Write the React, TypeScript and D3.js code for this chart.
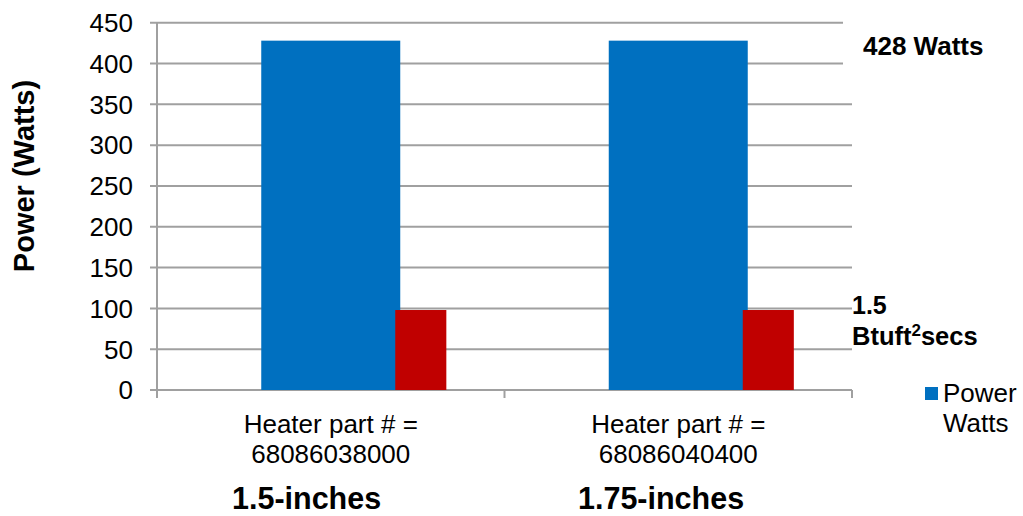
import React from "react";
import * as d3 from "d3";

const categories = ["Heater part # =|68086038000", "Heater part # =|68086040400"];
const sizeLabels = ["1.5-inches", "1.75-inches"];
const powerWatts = [428, 428];
const secondSeries = [98, 98];
const yTicks = [0, 50, 100, 150, 200, 250, 300, 350, 400, 450];

const W = 1023;
const H = 516;
const left = 157;
const right = 852;
const top = 22.7;
const bottom = 390;
const FONT = "'Liberation Sans', Arial, sans-serif";
const GRID = "#a0a0a0";

export default function App() {
  const x = d3.scaleBand<string>().domain(categories).range([left, right]).padding(0);
  const y = d3.scaleLinear().domain([0, 450]).range([bottom, top]);
  const bw = x.bandwidth();
  const blueW = bw * 0.4;
  const redW = bw * 0.147;
  const sizeX = [232, 578];

  return (
    <svg width={W} height={H} style={{ position: "absolute", left: 0, top: 0 }} fontFamily={FONT}>
      <rect x={0} y={0} width={W} height={H} fill="#fff" />
      {yTicks.map((t) => (
        <g key={t}>
          <line x1={150} x2={right} y1={y(t)} y2={y(t)} stroke={GRID} strokeWidth={2} />
          <text x={133} y={y(t)} dy="0.36em" textAnchor="end" fontSize={26} fill="#000">
            {t}
          </text>
        </g>
      ))}
      {/* label backdrop that hides the upper gridlines at the right */}
      <rect x={843} y={14} width={170} height={58} fill="#fff" />
      <line x1={left} x2={left} y1={y(450)} y2={398} stroke={GRID} strokeWidth={2} />
      {[left, x(categories[1])!, right].map((px, i) => (
        <line key={i} x1={px} x2={px} y1={bottom} y2={398} stroke={GRID} strokeWidth={2} />
      ))}
      {categories.map((c, i) => {
        const cx = x(c)! + bw / 2;
        const bx = cx - blueW / 2;
        return (
          <g key={c}>
            <rect x={bx} y={y(powerWatts[i])} width={blueW} height={y(0) - y(powerWatts[i])} fill="#0070c0" />
            <rect x={bx + blueW - 5} y={y(secondSeries[i])} width={redW} height={y(0) - y(secondSeries[i])} fill="#c00000" />
            {c.split("|").map((line, j) => (
              <text key={j} x={cx} y={433 + j * 29.5} textAnchor="middle" fontSize={26} fill="#000">
                {line}
              </text>
            ))}
            <text x={sizeX[i]} y={509} fontSize={30.5} fontWeight="bold" fill="#000">{sizeLabels[i]}</text>
          </g>
        );
      })}
      <text transform="translate(34,176) rotate(-90)" textAnchor="middle" fontSize={29} fontWeight="bold" fill="#000">
        Power (Watts)
      </text>
      <text x={863} y={55} fontSize={26} fontWeight="bold" fill="#000">428 Watts</text>
      <text x={852} y={314} fontSize={25} fontWeight="bold" fill="#000">1.5</text>
      <text x={852} y={345} fontSize={25.5} fontWeight="bold" fill="#000">
        Btuft<tspan fontSize={17} dy={-9}>2</tspan><tspan dy={9}>secs</tspan>
      </text>
      <rect x={925} y={387} width={13} height={13} fill="#0070c0" />
      <text x={943} y={402} fontSize={26} fill="#000">Power</text>
      <text x={943} y={432} fontSize={26} fill="#000">Watts</text>
    </svg>
  );
}
